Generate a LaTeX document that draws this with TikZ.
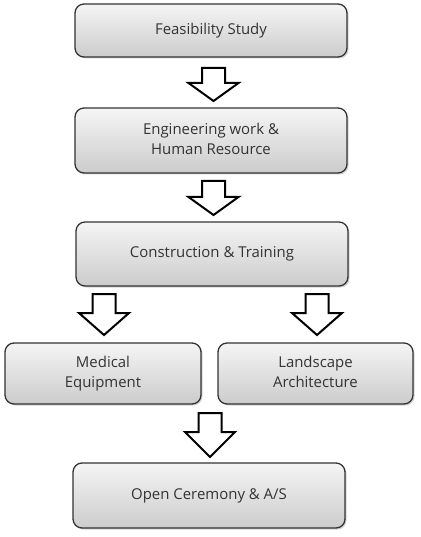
\documentclass[tikz,border=0pt]{standalone}
\usepackage{fontspec}
\setmainfont{Open Sans}
\usetikzlibrary{shadows}
\tikzset{
  x=1bp, y=-1bp,
  boxstyle/.style={draw=black!80, line width=1.3bp, rounded corners=9bp,
    top color=gray!8, bottom color=gray!40, shading angle=0,
    drop shadow={shadow xshift=1.5bp, shadow yshift=-1.5bp, opacity=0.35, fill=gray},
    text=black!80, font=\fontsize{15}{20}\selectfont, align=center, inner sep=0pt},
  arrowstyle/.style={draw=black, fill=white, line width=2bp, line join=miter}
}
\newcommand{\blockarrow}[4]{% center x, top y, head base y, tip y
  \draw[arrowstyle] (#1-11.5,#2) -- (#1+11.5,#2) -- (#1+11.5,#3) -- (#1+25,#3) -- (#1,#4) -- (#1-25,#3) -- (#1-11.5,#3) -- cycle;}
\begin{document}
\begin{tikzpicture}
\useasboundingbox (0,0) rectangle (420,537);
\fill[white] (0,0) rectangle (420,537);
\node[boxstyle, minimum width=272bp, minimum height=53bp] (b1) at (211,30.5) {\strut Feasibility Study};
\node[boxstyle, minimum width=272bp, minimum height=65bp] (b2) at (211,140.5) {\strut Engineering work \&\\\strut Human Resource};
\node[boxstyle, minimum width=272bp, minimum height=64bp] (b3) at (212,254) {\strut Construction \& Training};
\node[boxstyle, minimum width=196bp, minimum height=61bp] (b4) at (103,373.5) {\strut Medical\\\strut Equipment};
\node[boxstyle, minimum width=195bp, minimum height=61bp] (b5) at (315.5,373.5) {\strut Landscape\\\strut Architecture};
\node[boxstyle, minimum width=272bp, minimum height=65bp] (b6) at (209,495.5) {\strut Open Ceremony \& A/S};
\blockarrow{213.5}{68}{83}{101}
\blockarrow{213.5}{181}{197}{215}
\blockarrow{104}{294}{313}{335}
\blockarrow{317}{294}{313}{335}
\blockarrow{210}{413}{432}{457}
\end{tikzpicture}
\end{document}
